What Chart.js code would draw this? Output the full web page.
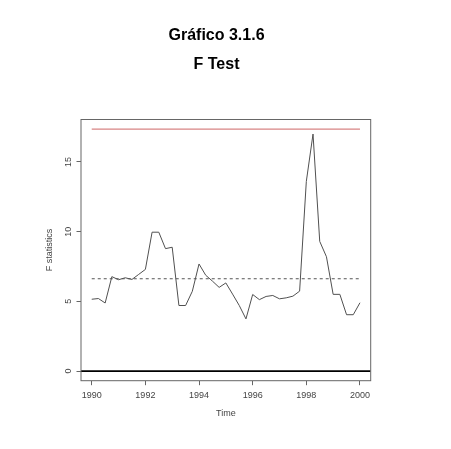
<!DOCTYPE html>
<html lang="es">
<head>
<meta charset="UTF-8">
<title>Gráfico 3.1.6 - F Test</title>
<script src="https://cdn.jsdelivr.net/npm/chart.js"></script>
<style>
  html, body { margin: 0; padding: 0; background: #fff; }
  #wrap { width: 451px; height: 449px; }
</style>
</head>
<body>
<div id="wrap"><canvas id="fchart" width="451" height="449"></canvas></div>
<script>
  // quarterly F statistics, 1990 Q1 .. 2000 Q1
  const years = [
    1990.00, 1990.25, 1990.50, 1990.75, 1991.00, 1991.25, 1991.50, 1991.75,
    1992.00, 1992.25, 1992.50, 1992.75, 1993.00, 1993.25, 1993.50, 1993.75,
    1994.00, 1994.25, 1994.50, 1994.75, 1995.00, 1995.25, 1995.50, 1995.75,
    1996.00, 1996.25, 1996.50, 1996.75, 1997.00, 1997.25, 1997.50, 1997.75,
    1998.00, 1998.25, 1998.50, 1998.75, 1999.00, 1999.25, 1999.50, 1999.75,
    2000.00
  ];
  const fStat = [
    5.15, 5.2, 4.88, 6.77, 6.55, 6.69, 6.57, 6.93,
    7.29, 9.96, 9.96, 8.78, 8.88, 4.7, 4.7, 5.72,
    7.68, 6.87, 6.45, 6.0, 6.32, 5.52, 4.7, 3.74,
    5.49, 5.12, 5.35, 5.42, 5.18, 5.25, 5.37, 5.73,
    13.6, 17.0, 9.3, 8.2, 5.5, 5.5, 4.04, 4.04,
    4.9
  ];
  const critValue = 17.35;   // red line
  const meanValue = 6.62;    // dashed line
  const lineSpan = [1990, 2000];
  const xRange = [1989.6, 2000.4];
  const yRange = [-0.694, 18.044];
  const xTicks = [1990, 1992, 1994, 1996, 1998, 2000];
  const yTicks = [0, 5, 10, 15];

  const fontFam = '"Liberation Sans", Arial, Helvetica, sans-serif';
  const axisGrey = '#666';

  const seriesPts = years.map((x, i) => ({ x: x, y: fStat[i] }));
  const flat = (xs, v) => xs.map(x => ({ x: x, y: v }));

  const boxAndLabels = {
    id: 'boxAndLabels',
    afterDraw(chart) {
      const { ctx, chartArea } = chart;
      const ys = chart.scales.y;
      ctx.save();
      ctx.strokeStyle = axisGrey;
      ctx.lineWidth = 1;
      ctx.strokeRect(chartArea.left, chartArea.top,
        chartArea.right - chartArea.left, chartArea.bottom - chartArea.top);
      // R style vertical tick labels
      ctx.fillStyle = '#444';
      ctx.font = '9px ' + fontFam;
      ctx.textAlign = 'center';
      ctx.textBaseline = 'middle';
      yTicks.forEach(v => {
        ctx.save();
        ctx.translate(chartArea.left - 12.3, ys.getPixelForValue(v));
        ctx.rotate(-Math.PI / 2);
        ctx.fillText(String(v), 0, 0);
        ctx.restore();
      });
      ctx.restore();
    }
  };

  new Chart(document.getElementById('fchart'), {
    type: 'line',
    data: {
      datasets: [
        {
          data: flat(xRange, 0),
          borderColor: '#000',
          borderWidth: 1.8,
          pointRadius: 0
        },
        {
          data: flat(lineSpan, critValue),
          borderColor: '#d88484',
          borderWidth: 1.3,
          pointRadius: 0
        },
        {
          data: flat(lineSpan, meanValue),
          borderColor: '#555',
          borderWidth: 1,
          borderDash: [3, 3],
          pointRadius: 0
        },
        {
          data: seriesPts,
          borderColor: '#505050',
          borderWidth: 1,
          pointRadius: 0,
          tension: 0
        }
      ]
    },
    options: {
      responsive: false,
      animation: false,
      layout: { padding: { left: 0, right: 18, top: 0, bottom: 0 } },
      scales: {
        x: {
          type: 'linear',
          min: xRange[0],
          max: xRange[1],
          afterBuildTicks: s => { s.ticks = xTicks.map(v => ({ value: v })); },
          afterFit: s => { s.height = 68.3; },
          grid: { drawOnChartArea: false, drawTicks: true, tickLength: 4.5, color: axisGrey },
          border: { display: false },
          ticks: {
            color: '#444',
            font: { family: fontFam, size: 9 },
            padding: 5,
            maxRotation: 0,
            callback: v => String(v)
          },
          title: {
            display: true,
            text: 'Time',
            color: '#444',
            font: { family: fontFam, size: 9 },
            padding: { top: 0, bottom: 30 }
          }
        },
        y: {
          type: 'linear',
          min: yRange[0],
          max: yRange[1],
          afterBuildTicks: s => { s.ticks = yTicks.map(v => ({ value: v })); },
          afterFit: s => { s.width = 81; },
          grid: { drawOnChartArea: false, drawTicks: true, tickLength: 4.5, color: axisGrey },
          border: { display: false },
          ticks: { display: false },
          title: {
            display: true,
            text: 'F statistics',
            color: '#444',
            font: { family: fontFam, size: 9 },
            padding: { top: 44.6, bottom: 0 }
          }
        },
        yRight: {
          type: 'linear',
          position: 'right',
          display: true,
          afterFit: s => { s.width = 62.3; },
          grid: { display: false },
          border: { display: false },
          ticks: { display: false }
        }
      },
      plugins: {
        legend: { display: false },
        tooltip: { enabled: false },
        title: {
          display: true,
          text: ['Gráfico 3.1.6', 'F Test'],
          color: '#000',
          font: { family: fontFam, size: 16, weight: 'bold', lineHeight: 1.8 },
          padding: { top: 21.5, bottom: 40.4 }
        }
      }
    },
    plugins: [boxAndLabels]
  });
</script>
</body>
</html>
